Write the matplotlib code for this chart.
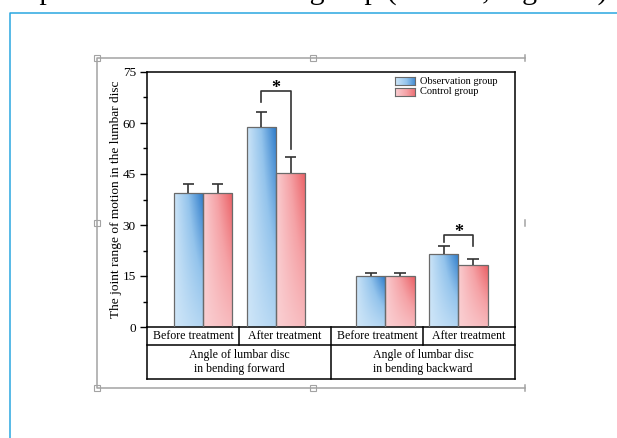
import numpy as np
import matplotlib
matplotlib.use("Agg")
import matplotlib.pyplot as plt
from matplotlib.colors import LinearSegmentedColormap
from matplotlib.patches import Rectangle
from matplotlib.lines import Line2D
from matplotlib.ticker import MultipleLocator

plt.rcParams["font.family"] = ["Liberation Serif", "DejaVu Serif"]

# data
treatments = ["Before treatment", "After treatment", "Before treatment", "After treatment"]
motions = ["Angle of lumbar disc\nin bending forward", "Angle of lumbar disc\nin bending backward"]
groups = ["Observation group", "Control group"]
x_pos = [1.0, 2.0, 3.5, 4.5]
obs_mean = [39.4, 58.8, 15.0, 21.5]
obs_sd = [2.6, 4.4, 0.8, 2.3]
ctl_mean = [39.4, 45.3, 15.0, 18.2]
ctl_sd = [2.6, 4.7, 0.8, 1.8]
y_ticks = [0, 15, 30, 45, 60, 75]
# significance: category index, bracket height, left leg end, right leg end
sig_idx = [1, 3]
sig_top = [69.4, 27.1]
sig_left = [66.2, 25.0]
sig_right = [52.4, 23.8]

W, H = 617, 438
BAR_W = 0.4

blue_cmap = LinearSegmentedColormap.from_list("b", ["#cfe6f8", "#94c4ec", "#2a79c9"])
red_cmap = LinearSegmentedColormap.from_list("r", ["#fad0d3", "#f5a2a6", "#ea5f64"])


def fx(px):
    return px / W


def fy(py):
    return 1 - py / H


def gradient(n=80):
    u = np.linspace(0, 1, n)
    U, V = np.meshgrid(u, u)
    return U ** 0.9 * (0.25 + 0.75 * V)


def grad_bar(ax, x0, height, cmap):
    rect = Rectangle((x0, 0), BAR_W, height, facecolor="none",
                     edgecolor="#6a6a6a", lw=0.9, zorder=3)
    ax.add_patch(rect)
    im = ax.imshow(gradient(), cmap=cmap, vmin=0, vmax=1, origin="lower",
                   extent=[x0, x0 + BAR_W, 0, height], aspect="auto",
                   interpolation="bilinear", zorder=2)
    im.set_clip_path(rect)


fig = plt.figure(figsize=(W / 100, H / 100), dpi=100)
ax = fig.add_axes([fx(147), fy(327), fx(515) - fx(147), fy(72) - fy(327)])

for i, x in enumerate(x_pos):
    grad_bar(ax, x - BAR_W, obs_mean[i], blue_cmap)
    grad_bar(ax, x, ctl_mean[i], red_cmap)

# upper error bars
xo = np.array(x_pos) - BAR_W / 2
xc = np.array(x_pos) + BAR_W / 2
for xs, m, s in [(xo, obs_mean, obs_sd), (xc, ctl_mean, ctl_sd)]:
    top = np.array(m) + np.array(s)
    ax.vlines(xs, m, top, color="#333333", lw=1.2, zorder=4)
    ax.hlines(top, xs - 0.08, xs + 0.08, color="#333333", lw=1.2, zorder=4)

# significance brackets
for k, i in enumerate(sig_idx):
    xl, xr = xo[i], xc[i]
    ax.plot([xl, xl, xr, xr], [sig_left[k], sig_top[k], sig_top[k], sig_right[k]],
            color="#333333", lw=1.2, zorder=4)
    ax.text((xl + xr) / 2, sig_top[k] - 0.6, "*", ha="center", va="baseline",
            fontsize=13, fontweight="bold")

ax.set_xlim(0.233, 5.274)
ax.set_ylim(0, 75)
ax.set_xticks([])
ax.set_yticks(y_ticks)
ax.yaxis.set_minor_locator(MultipleLocator(7.5))
ax.tick_params(axis="y", direction="out", length=5, width=1, labelsize=9.5, pad=3)
ax.tick_params(axis="y", which="minor", direction="out", length=3, width=1)
for sp in ax.spines.values():
    sp.set_linewidth(1.1)
ax.set_ylabel("The joint range of motion in the lumbar disc", fontsize=9.6)
ax.yaxis.set_label_coords(-0.068, 0.5)

# category table under the axes
r1 = -18 / 255
r2 = -52 / 255
tk = dict(transform=ax.transAxes, color="black", lw=1.1, clip_on=False)
ax.plot([0, 1], [r1, r1], **tk)
ax.plot([0, 1], [r2, r2], **tk)
ax.plot([0, 0], [0, r2], **tk)
ax.plot([1, 1], [0, r2], **tk)
ax.plot([0.5, 0.5], [0, r2], **tk)
ax.plot([0.25, 0.25], [0, r1], **tk)
ax.plot([0.75, 0.75], [0, r1], **tk)
for j, t in enumerate(treatments):
    ax.text(0.125 + 0.25 * j, r1 / 2, t, transform=ax.transAxes,
            ha="center", va="center", fontsize=8.6)
for j, t in enumerate(motions):
    ax.text(0.25 + 0.5 * j, (r1 + r2) / 2, t, transform=ax.transAxes,
            ha="center", va="center", fontsize=8.6, linespacing=1.2)

# legend
for k, (name, cmap) in enumerate(zip(groups, [blue_cmap, red_cmap])):
    y0 = 77 + 11 * k
    lax = fig.add_axes([fx(395), fy(y0 + 8), fx(20), 8 / H])
    g = np.linspace(0, 1, 50)[None, :] * 0.9
    lax.imshow(g, cmap=cmap, vmin=0, vmax=1, aspect="auto", extent=[0, 1, 0, 1])
    lax.set_xticks([])
    lax.set_yticks([])
    for sp in lax.spines.values():
        sp.set_color("#6a6a6a")
        sp.set_linewidth(0.8)
    fig.text(fx(420), fy(y0 + 4), name, ha="left", va="center", fontsize=7.5)

# document frame around the picture
blue = "#2aa7e0"
fig.add_artist(Line2D([fx(9.5), fx(9.5), fx(617)], [fy(438), fy(12.5), fy(12.5)],
                      color=blue, lw=1.1))
gray = "#a3a3a3"
fig.add_artist(Line2D([fx(525), fx(97), fx(97), fx(525)], [fy(58), fy(58), fy(388), fy(388)],
                      color=gray, lw=1.1))
for (px_, py_) in [(525, 58), (525, 223), (525, 388)]:
    fig.add_artist(Line2D([fx(px_), fx(px_)], [fy(py_ - 3), fy(py_ + 3)], color=gray, lw=1.1))
for (px_, py_) in [(97, 58), (313, 58), (97, 223), (97, 388), (313, 388)]:
    fig.add_artist(Rectangle((fx(px_ - 3), fy(py_ + 3)), 6 / W, 6 / H, transform=fig.transFigure,
                             facecolor="white", edgecolor=gray, lw=0.8))

# cut-off line of document text at the very top (only descenders show)
fig.text(fx(-12), fy(-1), "compared with the control group (P<0.05, Figure 5)",
         ha="left", va="baseline", fontsize=21.5)

fig.savefig("out.png", dpi=100)
